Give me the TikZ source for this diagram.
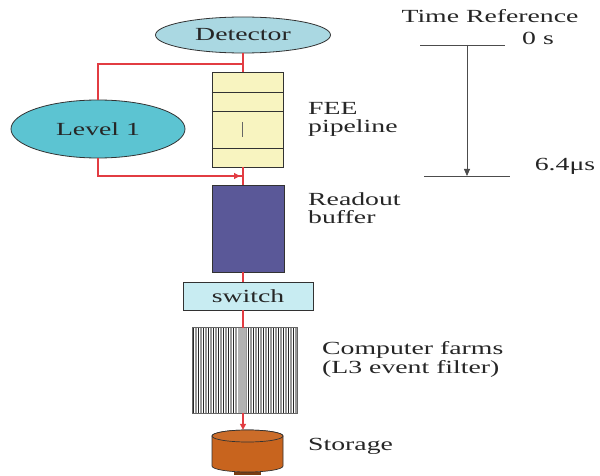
\documentclass[tikz,border=0pt]{standalone}
\usepackage{fontspec}
\setmainfont[FakeStretch=1.5]{Liberation Serif}
\usetikzlibrary{shapes.geometric,arrows.meta,calc}

\definecolor{detfill}{RGB}{170,216,226}
\definecolor{lvlfill}{RGB}{92,196,210}
\definecolor{feefill}{RGB}{248,244,192}
\definecolor{buffill}{RGB}{90,88,152}
\definecolor{swfill}{RGB}{200,236,242}
\definecolor{stofill}{RGB}{200,100,30}
\definecolor{sigred}{RGB}{226,60,66}
\definecolor{edge}{RGB}{50,50,50}

\tikzset{
  txt/.style={font=\fontsize{18.5}{20}\selectfont, text=black!85, inner sep=0pt},
  lbl/.style={txt, anchor=west, align=left},
  oval/.style={ellipse, draw=edge, line width=0.8pt, txt},
  unit/.style={rectangle, draw=edge, line width=0.8pt, inner sep=0pt},
  sig/.style={draw=sigred, line width=1.2pt},
  sigarrow/.style={sig, -{Triangle[length=6pt,width=6pt]}},
  tick/.style={draw=black!70, line width=0.8pt},
}

\begin{document}
\begin{tikzpicture}[x=1pt,y=-1pt]
\useasboundingbox[fill=white] (0,0) rectangle (600,476);

% --- trigger and data-flow chain ---
\node[oval, fill=detfill, minimum width=175pt, minimum height=36pt] (det) at (243,35) {Detector};
\node[oval, fill=lvlfill, minimum width=174pt, minimum height=58pt] (lvl) at (98,129) {Level 1};

\node[unit, fill=feefill, minimum width=71pt, minimum height=95pt] (fee) at (247.5,119.5) {};
\node[unit, fill=buffill, minimum width=72pt, minimum height=87pt] (buf) at (248,228.5) {};
\node[unit, fill=swfill, minimum width=130pt, minimum height=28pt, txt] (sw) at (248,296) {switch};
\node[unit, draw=none, minimum width=104pt, minimum height=85pt] (farm) at (245,370.5) {};
\coordinate (sto) at (247.5,430);

% pipeline cell boundaries
\draw[edge, line width=0.8pt] (fee.west |- 0,92) -- (fee.east |- 0,92)
  (fee.west |- 0,111) -- (fee.east |- 0,111)
  (fee.west |- 0,148) -- (fee.east |- 0,148);
\draw[black!60, line width=0.6pt] (242,122) -- (242,137);

% computer farm racks
\begin{scope}
  \clip (farm.south west) rectangle (farm.north east);
  \fill[white] (farm.south west) rectangle (farm.north east);
  \foreach \i in {0,...,20} {
    \pgfmathsetmacro{\xx}{193+5*\i}
    \fill[black!40] (\xx+2.2,328) rectangle (\xx+4.2,413);
    \draw[black!85, line width=0.8pt] (\xx+0.8,328) -- (\xx+0.8,413);
  }
  \fill[black!30] (238,328) rectangle (246,413);
\end{scope}
\draw[black, line width=0.9pt] (farm.north west) -- (farm.north east);
\draw[black!60, line width=0.5pt] (farm.south west) rectangle (farm.north east);

% storage cylinder
\fill[stofill!60!black] (234,472) rectangle (261,475);
\filldraw[fill=stofill, draw=edge, line width=0.7pt]
  (212,436) -- (212,466) arc[start angle=180, end angle=360, x radius=35.5pt, y radius=6pt]
  -- (283,436) arc[start angle=0, end angle=180, x radius=35.5pt, y radius=6pt];
\draw[edge, line width=0.7pt, fill=stofill!95!white] (sto |- 0,436) ellipse[x radius=35.5pt, y radius=6pt];
\node[inner sep=0pt, minimum width=71pt, minimum height=43pt] (stor) at (247.5,451.5) {};

% red signal path
\draw[sig] (det.south) -- (det.south |- fee.north);
\draw[sig] (det.south |- 0,64) -| (lvl.north);
\draw[sig] (det.south |- fee.south) -- (det.south |- buf.north);
\coordinate (l1in) at (det.south |- 0,176);
\draw[sig] (lvl.south) |- (l1in);
\draw[sigarrow] (lvl.south |- 0,176) -- ($(l1in)+(-3,0)$);
\draw[sig] (det.south |- buf.south) -- (det.south |- sw.north);
\draw[sig] (det.south |- sw.south) -- (det.south |- farm.north);
\draw[sigarrow] (det.south |- farm.south) -- (det.south |- stor.north);

% labels
\node[lbl] (feel) at (308,119.5) {FEE\\[-2pt]pipeline};
\node[lbl] (bufl) at (308,208.5) {Readout\\[-2pt]buffer};
\node[lbl] (farml) at (322,359.5) {Computer farms\\[-1pt](L3 event filter)};
\node[lbl] (stol) at (308,446) {Storage};

% time reference scale
\node[txt] (tref) at (490,16) {Time Reference};
\coordinate (t0l) at (420,45);
\coordinate (t0r) at (505,45);
\coordinate (t1l) at (424,176);
\coordinate (t1r) at (510,176);
\coordinate (ttop) at (467,45);
\coordinate (tbot) at (467,176);
\draw[tick] (t0l) -- (t0r);
\draw[tick] (t1l) -- (t1r);
\draw[tick, -{Triangle[length=7pt,width=6pt]}] (ttop) -- (tbot);
\node[txt] (t0) at (538,38) {0 s};
\node[txt] (t1) at (565,166) {6.4μs};
\end{tikzpicture}
\end{document}
